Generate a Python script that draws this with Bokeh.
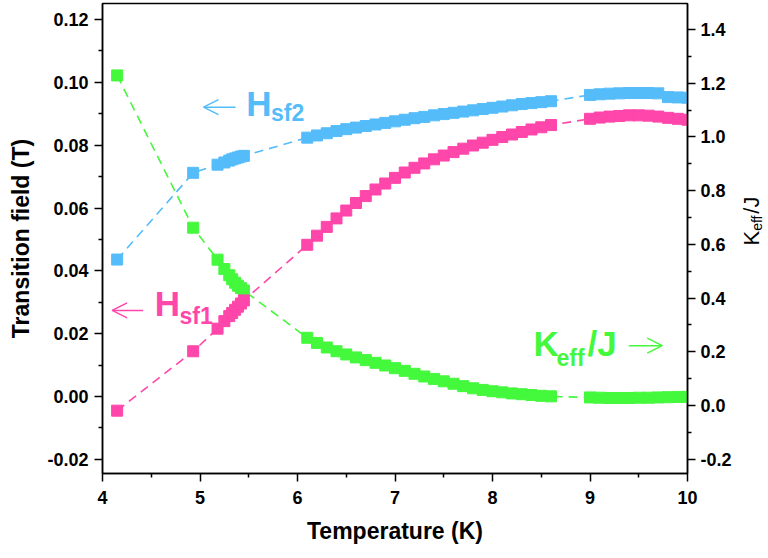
import math
from bokeh.plotting import figure
from bokeh.layouts import row
from bokeh.models import (LinearAxis, Range1d, FixedTicker, PrintfTickFormatter,
                          Label, Arrow, OpenHead, ColumnDataSource)
from bokeh.embed import file_html
from bokeh.resources import INLINE

# ---------------- data ----------------
temperature = [4.15, 4.93,
               5.18, 5.25, 5.30, 5.33, 5.36, 5.39, 5.42, 5.45,
               6.1, 6.2, 6.3, 6.4, 6.5, 6.6, 6.7, 6.8, 6.9, 7.0, 7.1, 7.2, 7.3,
               7.4, 7.5, 7.6, 7.7, 7.8, 7.9, 8.0, 8.1, 8.2, 8.3, 8.4, 8.5, 8.6,
               9.0, 9.1, 9.2, 9.3, 9.4, 9.5, 9.6, 9.7, 9.8, 9.9, 10.0]

h_sf2 = [0.0436, 0.0712,
         0.0738, 0.0745, 0.0751, 0.0755, 0.0758, 0.0761, 0.0764, 0.0766,
         0.0824, 0.0831, 0.0838, 0.0845, 0.0851, 0.0856, 0.0861, 0.0866, 0.0871,
         0.0876, 0.0881, 0.0886, 0.0890, 0.0895, 0.0899, 0.0903, 0.0907, 0.0911,
         0.0915, 0.0919, 0.0923, 0.0927, 0.0931, 0.0934, 0.0937, 0.0940,
         0.0960, 0.0962, 0.0964, 0.0965, 0.0966, 0.0966, 0.0966, 0.0965, 0.0953,
         0.0952, 0.0951]

h_sf1 = [-0.0045, 0.0144,
         0.0216, 0.0240, 0.0256, 0.0266, 0.0276, 0.0286, 0.0296, 0.0306,
         0.0483, 0.0512, 0.0540, 0.0567, 0.0592, 0.0616, 0.0638, 0.0659, 0.0678,
         0.0696, 0.0713, 0.0728, 0.0742, 0.0755, 0.0767, 0.0778, 0.0789, 0.0799,
         0.0808, 0.0817, 0.0826, 0.0834, 0.0842, 0.0850, 0.0857, 0.0864,
         0.0884, 0.0888, 0.0891, 0.0893, 0.0895, 0.0895, 0.0894, 0.0891, 0.0887,
         0.0884, 0.0881]

keff_j = [1.229, 0.662,
          0.543, 0.508, 0.485, 0.470, 0.457, 0.446, 0.437, 0.428,
          0.252, 0.233, 0.216, 0.202, 0.190, 0.179, 0.169, 0.159, 0.149,
          0.139, 0.129, 0.118, 0.108, 0.099, 0.090, 0.081, 0.072, 0.064,
          0.058, 0.053, 0.049, 0.045, 0.042, 0.039, 0.036, 0.034,
          0.030, 0.029, 0.028, 0.028, 0.028, 0.029, 0.029, 0.030, 0.031,
          0.032, 0.032]

x_ticks = [4, 5, 6, 7, 8, 9, 10]
x_minor = [4.5, 5.5, 6.5, 7.5, 8.5, 9.5]
left_ticks = [-0.02, 0.0, 0.02, 0.04, 0.06, 0.08, 0.10, 0.12]
left_minor = [-0.01, 0.01, 0.03, 0.05, 0.07, 0.09, 0.11]
right_ticks = [-0.2, 0.0, 0.2, 0.4, 0.6, 0.8, 1.0, 1.2, 1.4]
right_minor = [-0.1, 0.1, 0.3, 0.5, 0.7, 0.9, 1.1, 1.3]

BLUE = "#55BCFA"
PINK = "#FF46AA"
GREEN = "#44F83C"
FONT = "Liberation Sans"

src = ColumnDataSource(dict(t=temperature, h1=h_sf1, h2=h_sf2, k=keff_j))

p = figure(width=740, height=558, x_range=Range1d(4, 10),
           y_range=Range1d(-0.0245, 0.1251),
           output_backend="svg", toolbar_location=None,
           min_border_left=102, min_border_right=53,
           min_border_top=3, min_border_bottom=85)
p.extra_y_ranges = {"keff": Range1d(-0.2532, 1.4967)}

p.xgrid.visible = False
p.ygrid.visible = False
p.outline_line_color = "black"
p.outline_line_width = 1.5
p.background_fill_color = "white"
p.border_fill_color = "white"


def style_axis(ax):
    ax.axis_line_color = "black"
    ax.axis_line_width = 1.5
    ax.major_tick_line_color = "black"
    ax.major_tick_line_width = 1.5
    ax.minor_tick_line_color = "black"
    ax.minor_tick_line_width = 1.5
    ax.major_tick_out = 8
    ax.major_tick_in = 0
    ax.minor_tick_out = 4
    ax.minor_tick_in = 0
    ax.major_label_text_font = FONT
    ax.major_label_text_font_style = "bold"
    ax.major_label_text_font_size = "18px"
    ax.major_label_text_color = "black"
    ax.axis_label_text_font = FONT
    ax.axis_label_text_font_style = "bold"
    ax.axis_label_text_font_size = "23px"
    ax.axis_label_text_color = "black"


xa = p.xaxis[0]
xa.ticker = FixedTicker(ticks=x_ticks, minor_ticks=x_minor)
xa.axis_label = "Temperature (K)"
style_axis(xa)
xa.major_label_standoff = 9
xa.axis_label_standoff = 11

ya = p.yaxis[0]
ya.ticker = FixedTicker(ticks=left_ticks, minor_ticks=left_minor)
ya.formatter = PrintfTickFormatter(format="%.2f")
ya.axis_label = "Transition field (T)"
style_axis(ya)
ya.major_label_standoff = 6
ya.axis_label_standoff = 10

ra = LinearAxis(y_range_name="keff",
                ticker=FixedTicker(ticks=right_ticks, minor_ticks=right_minor),
                formatter=PrintfTickFormatter(format="%.1f"))
style_axis(ra)
ra.major_label_standoff = 5
p.add_layout(ra, "right")

# ---------------- series ----------------
MS = 11
p.line("t", "k", source=src, y_range_name="keff", line_color=GREEN,
       line_width=1.6, line_dash="9 6")
p.scatter("t", "k", source=src, y_range_name="keff", marker="square",
          size=MS, fill_color=GREEN, line_color=GREEN)

p.line("t", "h2", source=src, line_color=BLUE, line_width=1.6, line_dash="9 6")
p.scatter("t", "h2", source=src, marker="square", size=MS,
          fill_color=BLUE, line_color=BLUE)

p.line("t", "h1", source=src, line_color=PINK, line_width=1.6, line_dash="9 6")
p.scatter("t", "h1", source=src, marker="square", size=MS,
          fill_color=PINK, line_color=PINK)


# ---------------- annotations ----------------
def lab(fig, x, y, text, color, size, style="bold", angle=0.0):
    fig.add_layout(Label(x=x, y=y, text=text,
                         text_color=color, text_font=FONT, text_font_size=size,
                         text_font_style=style, text_align="left",
                         text_baseline="alphabetic", angle=angle))


def arrow(x0, x1, y, color):
    p.add_layout(Arrow(x_start=x0, y_start=y, x_end=x1, y_end=y,
                       line_color=color, line_width=1.5,
                       end=OpenHead(size=15, line_color=color, line_width=1.5)))


# H_sf2
arrow(5.364, 5.036, 0.0921, BLUE)
lab(p, 5.474, 0.0934, "H", BLUE, "35px")
lab(p, 5.728, 0.0903, "sf2", BLUE, "23px")

# H_sf1
arrow(4.417, 4.099, 0.0274, PINK)
lab(p, 4.535, 0.0296, "H", PINK, "35px")
lab(p, 4.79, 0.0256, "sf1", PINK, "23px")

# Keff/J
lab(p, 8.42, 0.0169, "K", GREEN, "35px")
lab(p, 8.656, 0.0123, "eff", GREEN, "23px")
lab(p, 8.975, 0.0169, "/J", GREEN, "35px")
arrow(9.398, 9.741, 0.0162, GREEN)

# ---------------- right axis title K_eff/J in a narrow side panel ----------------
# side panel frame aligned with the main frame (page y 3..473); y data = 558 - page y
side = figure(width=28, height=558, x_range=Range1d(0, 28), y_range=Range1d(85, 555),
              x_axis_type=None, y_axis_type=None, output_backend="svg",
              toolbar_location=None, min_border_left=0, min_border_right=0,
              min_border_top=3, min_border_bottom=85)
side.outline_line_color = None
side.background_fill_color = "white"
side.border_fill_color = "white"
rot = math.pi / 2
lab(side, 11, 313, "K", "black", "22px", style="normal", angle=rot)
lab(side, 16, 327.7, "eff", "black", "14px", style="normal", angle=rot)
lab(side, 11, 344.8, "/J", "black", "22px", style="normal", angle=rot)

layout = row(p, side, spacing=0)

open("out.html", "w").write(file_html(layout, INLINE))
